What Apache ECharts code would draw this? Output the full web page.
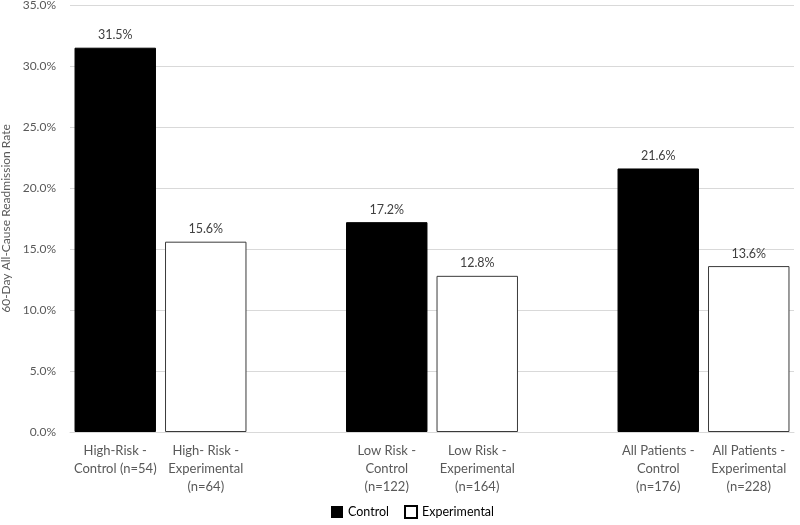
<!DOCTYPE html>
<html>
<head>
<meta charset="utf-8">
<script src="https://cdn.jsdelivr.net/npm/echarts@6/dist/echarts.min.js"></script>
<style>html,body{margin:0;padding:0;background:#fff}#c{width:800px;height:525px}</style>
</head>
<body>
<div id="c"></div>
<script>
var categories = ['High-Risk -\nControl (n=54)', 'High- Risk -\nExperimental\n(n=64)', '', 'Low Risk -\nControl\n(n=122)', 'Low Risk -\nExperimental\n(n=164)', '', 'All Patients -\nControl\n(n=176)', 'All Patients -\nExperimental\n(n=228)'];
var controlValues = [31.5, null, null, 17.2, null, null, 21.6, null];
var experimentalValues = [null, 15.6, null, null, 12.8, null, null, 13.6];
var yTicks = {min: 0, max: 35, interval: 5};
var yName = '60-Day All-Cause Readmission Rate';

var font = 'Lato, "Open Sans", sans-serif';
var chart = echarts.init(document.getElementById('c'), null, {renderer: 'canvas'});
var labelCfg = {
  show: true, position: 'top', distance: 6, color: '#404040', fontSize: 12.5, fontFamily: font,
  formatter: function (p) { return p.value == null ? '' : p.value.toFixed(1) + '%'; }
};
chart.setOption({
  animation: false,
  textStyle: {fontFamily: font},
  grid: {left: 70, right: 6, top: 5, bottom: 93, containLabel: false, outerBoundsMode: 'none'},
  legend: {
    bottom: 1, left: 326, itemWidth: 12, itemHeight: 12, itemGap: 15,
    textStyle: {color: '#000', fontSize: 12.5, fontFamily: font},
    data: [
      {name: 'Control', icon: 'rect', itemStyle: {color: '#000', borderColor: '#000', borderWidth: 0}},
      {name: 'Experimental', icon: 'rect', itemStyle: {color: '#fff', borderColor: '#000', borderWidth: 2}}
    ]
  },
  xAxis: {
    type: 'category', data: categories,
    axisTick: {show: false},
    axisLine: {show: true, lineStyle: {color: '#d9d9d9', width: 1}},
    axisLabel: {color: '#595959', fontSize: 13, fontFamily: font, lineHeight: 18, margin: 10, interval: 0}
  },
  yAxis: {
    type: 'value', min: yTicks.min, max: yTicks.max, interval: yTicks.interval,
    name: yName, nameLocation: 'middle', nameGap: 58, nameRotate: 90,
    nameTextStyle: {color: '#595959', fontSize: 12, fontFamily: font},
    axisLine: {show: false}, axisTick: {show: false},
    axisLabel: {color: '#595959', fontSize: 12, fontFamily: font, margin: 14,
      formatter: function (v) { return v.toFixed(1) + '%'; }},
    splitLine: {lineStyle: {color: '#d9d9d9', width: 1}}
  },
  series: [
    {name: 'Control', type: 'bar', data: controlValues, barWidth: '90%', barGap: '-100%',
      itemStyle: {color: '#000', borderColor: '#000', borderWidth: 1}, label: labelCfg},
    {name: 'Experimental', type: 'bar', data: experimentalValues, barWidth: '90%',
      itemStyle: {color: '#fff', borderColor: '#3a3a3a', borderWidth: 1}, label: labelCfg}
  ]
});
</script>
</body>
</html>
